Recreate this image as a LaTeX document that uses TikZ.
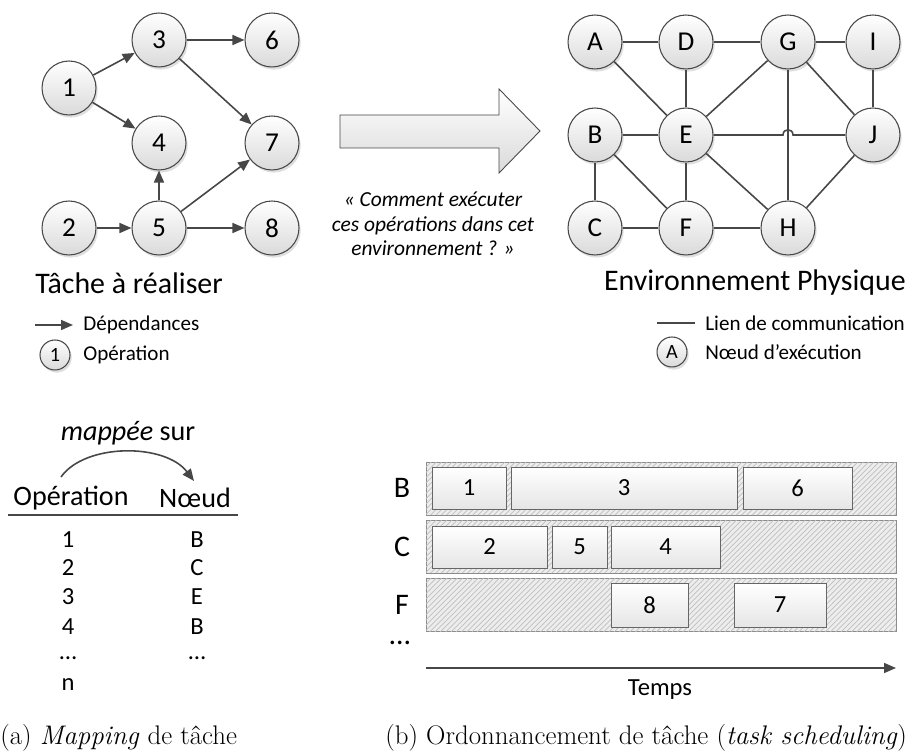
\documentclass[tikz,border=0pt]{standalone}
\usepackage{fontspec}
\setsansfont{Carlito}
\usepackage{tikz}
\usetikzlibrary{arrows.meta,shadows,patterns}
\definecolor{cline}{HTML}{474747}
\definecolor{cshade}{HTML}{DADADA}

\begin{document}
\begin{tikzpicture}[
  x=0.02cm, y=-0.02cm,
  font=\sffamily,
  op/.style={circle, draw=cline, line width=0.6pt, top color=white, bottom color=cshade, minimum size=1.08cm, inner sep=0pt, font=\sffamily\fontsize{15.5}{17}\selectfont, drop shadow={shadow xshift=1pt, shadow yshift=-1.5pt, opacity=0.25}},
  mini/.style={op, minimum size=0.6cm, font=\sffamily\fontsize{11.5}{12}\selectfont},
  dep/.style={-{Triangle[length=2.4mm, width=2mm]}, cline, line width=0.9pt},
  lien/.style={cline, line width=0.9pt},
  titre/.style={font=\sffamily\fontsize{17}{20}\selectfont, inner sep=0pt},
  leg/.style={font=\sffamily\fontsize{12}{14}\selectfont, anchor=west, inner sep=0pt},
  tab/.style={font=\sffamily\fontsize{14}{16}\selectfont, inner sep=0pt},
  cell/.style={tab, anchor=base},
  row/.style={draw=black!45, fill=black!7, postaction={pattern=north east lines, pattern color=black!25}, minimum height=1.06cm, minimum width=9.4cm, inner sep=0pt},
  job/.style={draw=black!60, top color=white, bottom color=black!10, minimum height=0.84cm, inner sep=0pt, font=\sffamily\fontsize{14}{15}\selectfont},
  legende/.style={font=\rmfamily\fontsize{15.3}{18}\selectfont, anchor=west, inner sep=0pt}]
  \useasboundingbox (0,0) rectangle (910,756);
  % task graph
  \node[op] (t1) at (69,88)  {1};
  \node[op] (t3) at (159,40) {3};
  \node[op] (t6) at (272,40) {6};
  \node[op] (t4) at (159,143) {4};
  \node[op] (t7) at (272,143) {7};
  \node[op] (t2) at (69,228) {2};
  \node[op] (t5) at (159,228) {5};
  \node[op] (t8) at (272,228) {8};
  \draw[dep] (t1) -- (t3); \draw[dep] (t1) -- (t4); \draw[dep] (t3) -- (t6); \draw[dep] (t3) -- (t7);
  \draw[dep] (t2) -- (t5); \draw[dep] (t5) -- (t4); \draw[dep] (t5) -- (t7); \draw[dep] (t5) -- (t8);
  \node[titre, anchor=west] (tache) at (35,283) {Tâche à réaliser};
  \coordinate (d0) at (35,325); \coordinate (d1) at (73,325);
  \draw[dep] (d0) -- (d1);
  \node[leg] (ldep) at (83,325) {Dépendances};
  \node[mini] (lop1) at (55,355) {1};
  \node[leg] (lop) at (83,355) {Opération};
  % big arrow
  \draw[cline, line width=0.5pt, top color=white, bottom color=cshade] (340,115) -- (499,115) -- (499,89) -- (540,131) -- (499,173) -- (499,148) -- (340,148) -- cycle;
  \node[align=center, font=\sffamily\itshape\fontsize{12.2}{14}\selectfont] (question) at (433,224) {« Comment exécuter\\ces opérations dans cet\\environnement ? »};
  % physical environment
  \node[op] (A) at (595,42)  {A};
  \node[op] (D) at (686,42)  {D};
  \node[op] (G) at (788,42)  {G};
  \node[op] (I) at (873,42)  {I};
  \node[op] (B) at (595,135) {B};
  \node[op] (E) at (686,135) {E};
  \node[op] (J) at (873,135) {J};
  \node[op] (C) at (595,228) {C};
  \node[op] (F) at (686,228) {F};
  \node[op] (H) at (788,228) {H};
  \draw[lien] (A) -- (D); \draw[lien] (D) -- (G); \draw[lien] (G) -- (I);
  \draw[lien] (A) -- (E); \draw[lien] (D) -- (E); \draw[lien] (G) -- (E);
  \draw[lien] (G) -- (H); \draw[lien] (G) -- (J); \draw[lien] (I) -- (J);
  \draw[lien] (B) -- (E); \draw[lien] (B) -- (C); \draw[lien] (B) -- (F);
  \draw[lien] (E) -- (F); \draw[lien] (E) -- (H); \draw[lien] (C) -- (F);
  \draw[lien] (F) -- (H); \draw[lien] (H) -- (J);
  \draw[lien] (E.east) -- (783,135) .. controls (783,128) and (793,128) .. (793,135) -- (J.west);
  \node[titre, anchor=east] (env) at (906,283) {Environnement Physique};
  \coordinate (l0) at (657,323); \coordinate (l1) at (695,323);
  \draw[lien] (l0) -- (l1);
  \node[leg] (llien) at (705,323) {Lien de communication};
  \node[mini] (lA) at (672,352) {A};
  \node[leg] (lnoeud) at (705,352) {Nœud d’exécution};
  % mapping table
  \node[tab, font=\sffamily\fontsize{16}{18}\selectfont] (mappee) at (128,433) {\textit{mappée} sur};
  \coordinate (m0) at (61,477); \coordinate (m1) at (194,481);
  \draw[dep] (m0) .. controls (85,443) and (165,443) .. (m1);
  \node[tab, font=\sffamily\fontsize{16}{18}\selectfont] (hop) at (71,498) {Opération};
  \node[tab, font=\sffamily\fontsize{16}{18}\selectfont] (hnd) at (195,498) {Nœud};
  \coordinate (r0) at (8,515); \coordinate (r1) at (238,515);
  \draw[cline, line width=1.2pt] (r0) -- (r1);
  \node[cell] (o1) at (68,548) {1}; \node[cell] (n1) at (197,548) {B};
  \node[cell] (o2) at (68,576) {2}; \node[cell] (n2) at (197,576) {C};
  \node[cell] (o3) at (68,605) {3}; \node[cell] (n3) at (197,605) {E};
  \node[cell] (o4) at (68,635) {4}; \node[cell] (n4) at (197,635) {B};
  \node[cell] (o5) at (68,660) {…}; \node[cell] (n5) at (197,660) {…};
  \node[cell] (o6) at (68,691) {n};
  % scheduling
  \node[row] (rowB) at (661,488.5) {};
  \node[row] (rowC) at (661,546.5) {};
  \node[row] (rowF) at (661,605) {};
  \node[titre] (lB) at (402,488) {B};
  \node[titre] (lC) at (402,547) {C};
  \node[titre] (lF) at (402,605) {F};
  \node[titre] (ldots) at (400,643) {…};
  \node[job, minimum width=1.48cm] (j1) at (469,488) {1};
  \node[job, minimum width=4.52cm] (j3) at (624,488) {3};
  \node[job, minimum width=2.18cm] (j6) at (797.5,488) {6};
  \node[job, minimum width=2.3cm] (j2) at (489.5,547) {2};
  \node[job, minimum width=1.1cm] (j5) at (579.5,547) {5};
  \node[job, minimum width=2.18cm] (j4) at (665.5,547) {4};
  \node[job, minimum width=1.54cm, minimum height=0.88cm] (j8) at (649.5,605) {8};
  \node[job, minimum width=1.84cm, minimum height=0.88cm] (j7) at (780,605) {7};
  \coordinate (tm0) at (426,668); \coordinate (tm1) at (896,668);
  \draw[dep] (tm0) -- (tm1);
  \node[tab] (temps) at (660,690) {Temps};
  % captions
  \node[legende] (capa) at (0,738) {(a) \textit{Mapping} de tâche};
  \node[legende] (capb) at (385,738) {(b) Ordonnancement de tâche (\textit{task scheduling})};
\end{tikzpicture}
\end{document}
